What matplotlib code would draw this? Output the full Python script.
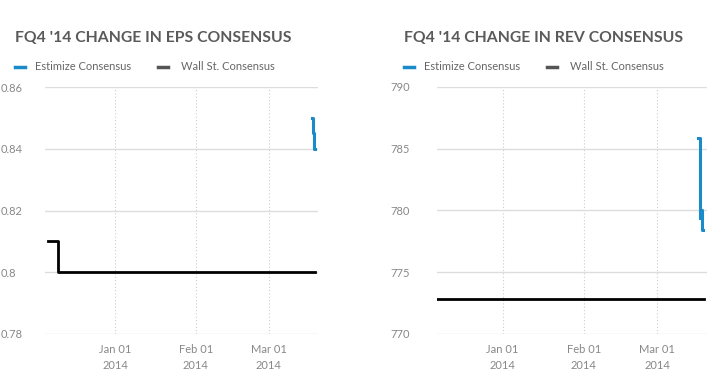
import matplotlib
matplotlib.use('Agg')
import matplotlib.pyplot as plt
import matplotlib.dates as mdates
import pandas as pd

# EPS panel data
eps_wall_dates = ['2013-12-06 00:00', '2013-12-10 00:00', '2014-03-19 00:00']
eps_wall_vals = [0.81, 0.80, 0.80]
eps_est_dates = ['2014-03-17 12:00', '2014-03-18 00:00', '2014-03-18 12:00', '2014-03-19 00:00']
eps_est_vals = [0.85, 0.845, 0.84, 0.84]

# REV panel data
rev_wall_dates = ['2013-12-07 00:00', '2014-03-19 00:00']
rev_wall_vals = [772.85, 772.85]
rev_est_dates = ['2014-03-16 12:00', '2014-03-17 06:00', '2014-03-17 09:00', '2014-03-18 06:00', '2014-03-18 08:00']
rev_est_vals = [785.9, 779.4, 780.0, 778.4, 778.4]

titles = ["FQ4 '14 CHANGE IN EPS CONSENSUS", "FQ4 '14 CHANGE IN REV CONSENSUS"]
eps_ticks = [0.78, 0.8, 0.82, 0.84, 0.86]
eps_ticklabels = ['0.78', '0.8', '0.82', '0.84', '0.86']
rev_ticks = [770, 775, 780, 785, 790]
month_ticks = ['2014-01-01', '2014-02-01', '2014-03-01']

BLUE = '#1a8bc9'
BLACK = '#000000'
GRID = '#dddddd'
TXT = '#888888'
TITLE = '#5a5a5a'

plt.rcParams['font.family'] = ['Lato', 'DejaVu Sans']

fig = plt.figure(figsize=(7.23, 3.9), dpi=100)

panels = [
    dict(rect=[45/723, 1-334/390, 273/723, 247/390], tx=15/723,
         wall=(eps_wall_dates, eps_wall_vals), est=(eps_est_dates, eps_est_vals),
         ticks=eps_ticks, labels=eps_ticklabels, ylim=(0.78, 0.86),
         xlim=('2013-12-05', '2014-03-20')),
    dict(rect=[437/723, 1-334/390, 270/723, 247/390], tx=404/723,
         wall=(rev_wall_dates, rev_wall_vals), est=(rev_est_dates, rev_est_vals),
         ticks=rev_ticks, labels=[str(t) for t in rev_ticks], ylim=(770, 790),
         xlim=('2013-12-07', '2014-03-20')),
]

for p, title in zip(panels, titles):
    ax = fig.add_axes(p['rect'])
    wd = pd.to_datetime(p['wall'][0], format='%Y-%m-%d %H:%M')
    ed = pd.to_datetime(p['est'][0], format='%Y-%m-%d %H:%M')
    ax.plot(wd, p['wall'][1], drawstyle='steps-post', color=BLACK, lw=2, zorder=3)
    ax.plot(ed, p['est'][1], drawstyle='steps-post', color=BLUE, lw=2.2, zorder=4)
    ax.set_ylim(*p['ylim'])
    ax.set_xlim(pd.Timestamp(p['xlim'][0]), pd.Timestamp(p['xlim'][1]))
    ax.set_yticks(p['ticks'])
    ax.set_yticklabels(p['labels'])
    ax.set_xticks(pd.to_datetime(month_ticks))
    ax.xaxis.set_major_formatter(mdates.DateFormatter('%b %d\n%Y'))
    for s in ax.spines.values():
        s.set_visible(False)
    ax.tick_params(length=0, labelsize=8, colors=TXT)
    ax.tick_params(axis='y', pad=10)
    ax.tick_params(axis='x', pad=7)
    for lab in ax.get_yticklabels():
        lab.set_horizontalalignment('left')
        lab.set_x(-(p['rect'][0] - p['tx']) / p['rect'][2])
    for lab in ax.get_xticklabels():
        lab.set_linespacing(1.6)
    ax.yaxis.grid(True, color=GRID, lw=1)
    ax.xaxis.grid(True, color='#cccccc', lw=0.8, linestyle=(0, (1, 2)))
    ax.set_axisbelow(True)

    # title and legend
    fig.text(p['tx'], 1-38/390, title, fontsize=11.3, fontweight='bold', color=TITLE, va='center', ha='left')
    ly = 1-67/390
    x0 = p['tx']
    fig.add_artist(plt.Line2D([x0, x0+10/723], [ly, ly], color=BLUE, lw=2.5))
    fig.text(x0+20/723, ly, 'Estimize Consensus', fontsize=8, color='#666666', va='center')
    fig.add_artist(plt.Line2D([x0+143/723, x0+153/723], [ly, ly], color='#555555', lw=2.5))
    fig.text(x0+166/723, ly, 'Wall St. Consensus', fontsize=8, color='#666666', va='center')

fig.savefig('out.png', dpi=100, facecolor='white')
